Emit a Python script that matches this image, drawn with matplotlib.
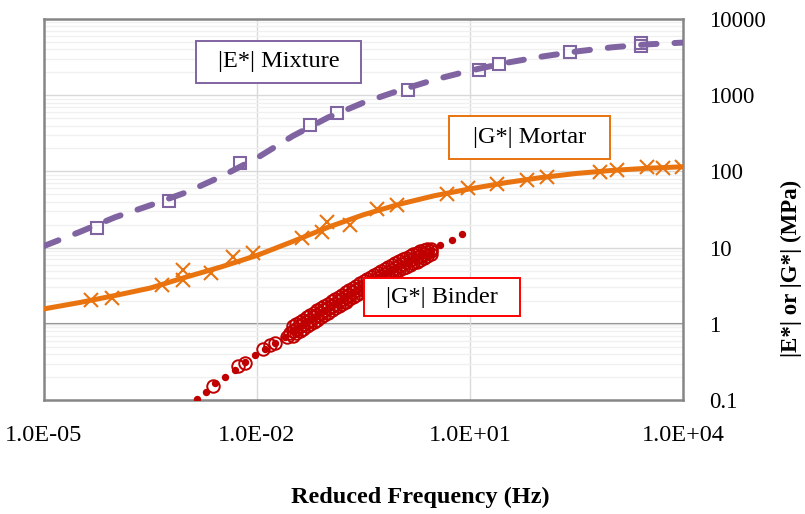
import numpy as np
import matplotlib
matplotlib.use("Agg")
import matplotlib.pyplot as plt
from matplotlib.patches import Rectangle
from matplotlib.ticker import FixedLocator, LogLocator, NullFormatter

# ---------------- data (log10 of reduced frequency in Hz, modulus in MPa) ----------------
mix_logf = [-4.25, -3.24, -2.24, -1.25, -0.87, 0.13, 1.13, 1.41, 2.41, 3.41, 3.41]
mix_E = [18, 41, 129, 407, 590, 1170, 2140, 2570, 3690, 4900, 4400]

mix_fit_logf = [-5, -4.5, -4, -3.5, -3, -2.5, -2, -1.5, -1, -0.5, 0, 0.5, 1, 1.5, 2, 2.5, 3, 3.5, 4]
mix_fit_E = [10.5, 16, 25, 36, 53, 86, 150, 290, 510, 800, 1150, 1600, 2100, 2650, 3200, 3750, 4250, 4650, 4900]

mor_logf = [-4.34, -4.04, -3.34, -3.04, -3.04, -2.65, -2.34, -2.06, -1.37, -1.08, -1.01, -0.69,
            -0.31, -0.03, 0.68, 0.97, 1.38, 1.80, 2.08, 2.83, 3.07, 3.49, 3.72, 3.99]
mor_G = [2.07, 2.2, 3.25, 5.1, 3.8, 4.7, 7.6, 8.5, 13.4, 16.1, 21.8, 19.9,
         32.2, 36.4, 50.7, 60.6, 68.7, 77.5, 85, 99, 105, 115, 112, 115]

mor_fit_logf = [-5, -4.5, -4, -3.5, -3, -2.5, -2, -1.5, -1, -0.5, 0, 0.5, 1, 1.5, 2, 2.5, 3, 3.5, 4]
mor_fit_G = [1.57, 1.9, 2.35, 2.95, 4.1, 5.6, 7.9, 12, 18.5, 27, 37, 48, 59, 71, 83, 94, 103, 110, 115]

# binder: sparse low-frequency points
bin_sparse_logf = [-2.62, -2.27, -2.17, -1.92, -1.82, -1.75, -1.58, -1.54, -0.76]
bin_sparse_G = [0.153, 0.281, 0.308, 0.47, 0.53, 0.56, 0.68, 0.76, 1.94]

# binder: dense band of overlapping sweeps
band_logf = [-1.50, -1.45, -1.40, -1.35, -1.30, -1.25, -1.20, -1.15, -1.10, -1.05,
             -1.00, -0.95, -0.90, -0.85, -0.80, -0.75, -0.70, -0.65, -0.60, -0.55,
             -0.50, -0.45, -0.40, -0.35, -0.30, -0.25, -0.20, -0.15, -0.10, -0.05,
             0.00, 0.05, 0.10, 0.15, 0.20, 0.25, 0.30, 0.35, 0.40, 0.45]
band_G_mid = [0.805, 0.863, 0.925, 0.991, 1.062, 1.135, 1.216, 1.303, 1.396, 1.496,
              1.603, 1.718, 1.837, 1.963, 2.10, 2.25, 2.40, 2.58, 2.75, 2.94,
              3.15, 3.36, 3.56, 3.79, 4.03, 4.29, 4.55, 4.84, 5.15, 5.47,
              5.82, 6.12, 6.44, 6.78, 7.13, 7.48, 7.87, 8.28, 8.71, 9.14]
band_G_high = [0.924, 0.991, 1.062, 1.138, 1.219, 1.303, 1.396, 1.496, 1.603, 1.717,
               1.840, 1.972, 2.109, 2.254, 2.41, 2.58, 2.76, 2.96, 3.16, 3.38,
               3.62, 3.86, 4.09, 4.35, 4.63, 4.92, 5.22, 5.56, 5.91, 6.28,
               6.68, 7.03, 7.39, 7.78, 8.19, 8.59, 9.03, 9.3, 9.5, 9.6]
band_G_low = [0.701, 0.752, 0.806, 0.863, 0.925, 0.989, 1.059, 1.135, 1.216, 1.303,
              1.396, 1.496, 1.600, 1.710, 1.829, 1.96, 2.09, 2.25, 2.40, 2.56,
              2.74, 2.93, 3.10, 3.30, 3.51, 3.74, 3.96, 4.22, 4.49, 4.76,
              5.07, 5.33, 5.61, 5.91, 6.21, 6.52, 6.85, 7.21, 7.70, 8.3]

bin_fit_logf = [-2.845, -2.72, -2.59, -2.45, -2.31, -2.17, -2.03, -1.89, -1.75, -1.61,
                -1.47, -1.33, -1.19, -1.05, -0.91, -0.77, -0.63, -0.49, -0.35, -0.21,
                -0.07, 0.07, 0.21, 0.35, 0.45, 0.58, 0.75, 0.89]
bin_fit_G = [0.104, 0.128, 0.168, 0.20, 0.25, 0.317, 0.39, 0.47, 0.56, 0.68,
             0.83, 1.02, 1.24, 1.5, 1.8, 2.15, 2.6, 3.2, 3.8, 4.5,
             5.3, 6.1, 7.0, 8.0, 8.9, 10.9, 12.6, 15.2]

x_ticks = [1e-5, 1e-2, 1e1, 1e4]
x_tick_labels = ["1.0E-05", "1.0E-02", "1.0E+01", "1.0E+04"]
y_ticks = [0.1, 1, 10, 100, 1000, 10000]
y_tick_labels = ["0.1", "1", "10", "100", "1000", "10000"]

# ---------------- style ----------------
PURPLE = "#8064A2"
ORANGE = "#E8730F"
RED = "#C00000"
GRID = "#D9D9D9"
MINOR = "#F0F0F0"
FRAME = "#868686"
SERIF = ["Liberation Serif", "DejaVu Serif"]

plt.rcParams["font.family"] = SERIF

W, H = 805, 514
fig = plt.figure(figsize=(W / 100, H / 100), dpi=100)
ax = fig.add_axes([44 / W, 1 - 400 / H, (683 - 44) / W, (400 - 19) / H])

def f(lst):
    return 10.0 ** np.array(lst)

ax.set_xscale("log")
ax.set_yscale("log")
ax.set_xlim(1e-5, 1e4)
ax.set_ylim(0.1, 10000)

# grid
ax.yaxis.set_minor_locator(LogLocator(base=10, subs=np.arange(2, 10)))
ax.yaxis.set_minor_formatter(NullFormatter())
ax.xaxis.set_minor_locator(FixedLocator([]))
ax.grid(True, which="minor", axis="y", color=MINOR, lw=1.0, zorder=0)
ax.grid(True, which="major", axis="y", color=GRID, lw=1.0, zorder=0)
ax.grid(True, which="major", axis="x", color=GRID, lw=1.0, zorder=0)
ax.axhline(1, color=FRAME, lw=1.5, zorder=1)

ax.set_xticks(x_ticks)
ax.set_xticklabels(x_tick_labels)
ax.set_yticks(y_ticks)
ax.set_yticklabels(y_tick_labels)
ax.yaxis.tick_right()
ax.tick_params(axis="both", which="both", length=0)
ax.tick_params(axis="x", pad=18, labelsize=17.5)
ax.tick_params(axis="y", pad=19, labelsize=16.5)
for lab in ax.get_yticklabels():
    lab.set_horizontalalignment("left")

for s in ax.spines.values():
    s.set_color(FRAME)
    s.set_linewidth(1.8)

# series
ax.plot(f(mix_fit_logf), mix_fit_E, color=PURPLE, lw=4.3, ls=(0, (2.6, 3.0)),
        dash_capstyle="round", zorder=3)
ax.plot(f(mix_logf), mix_E, ls="none", marker="s", ms=9, mfc="none", mec=PURPLE, mew=1.5, zorder=4)

ax.plot(f(mor_fit_logf), mor_fit_G, color=ORANGE, lw=3.6, zorder=3, solid_joinstyle="round")
ax.plot(f(mor_logf), mor_G, ls="none", marker="x", ms=10, mec=ORANGE, mew=1.5, zorder=4)

circ = dict(ls="none", marker="o", ms=9, mfc="none", mec=RED, mew=1.4, zorder=4)
ax.plot(f(bin_sparse_logf), bin_sparse_G, **circ)
ax.plot(f(band_logf), band_G_mid, **circ)
ax.plot(f(band_logf), band_G_high, **circ)
ax.plot(f(band_logf), band_G_low, **circ)
ax.plot(f(bin_fit_logf), bin_fit_G, ls="none", marker="o", ms=4.3, color=RED, zorder=5)

# series labels (boxes in pixel layout)
def box_label(x0, y0, x1, y1, text, color):
    fig.patches.append(Rectangle((x0 / W, 1 - y1 / H), (x1 - x0) / W, (y1 - y0) / H,
                                 transform=fig.transFigure, fc="white", ec=color, lw=1.4, zorder=10))
    fig.text((x0 + x1) / 2 / W, 1 - (y0 + y1) / 2 / H, text, fontsize=17.5, ha="center",
             va="center", family=SERIF, zorder=11)

box_label(196, 41, 361, 83, "|E*| Mixture", PURPLE)
box_label(449, 116, 610, 159, "|G*| Mortar", ORANGE)
box_label(364, 278, 520, 316, "|G*| Binder", "#FF0000")

fig.text(420 / W, 1 - 497 / H, "Reduced Frequency (Hz)", fontsize=17.5, fontweight="bold",
         ha="center", va="center", family=SERIF)
fig.text(791 / W, 1 - 268 / H, "|E*| or |G*| (MPa)", fontsize=16.5, fontweight="bold",
         ha="center", va="center", rotation=90, family=SERIF)

fig.savefig("out.png", dpi=100)
